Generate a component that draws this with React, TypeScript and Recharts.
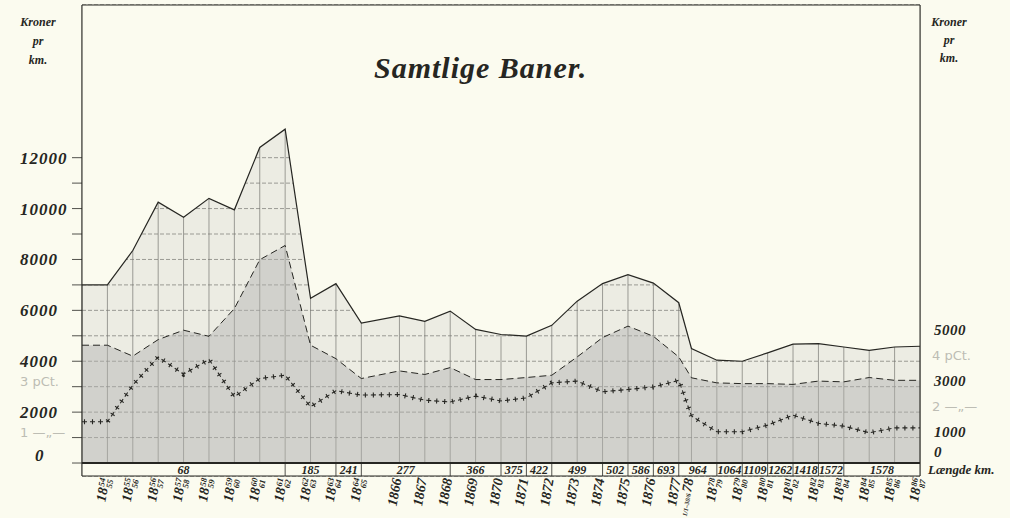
import {
  ComposedChart,
  Area,
  Line,
  XAxis,
  YAxis,
  CartesianGrid,
  ReferenceArea,
  ReferenceLine,
} from "recharts";

const BG = "#fbfbef";
const INK = "#262622";
const FADED = "#bdbdb4";
const SERIF = '"Liberation Serif", "DejaVu Serif", serif';
const SANS = '"DejaVu Sans", "Liberation Sans", sans-serif';

const Y_MIN = -510;
const Y_MAX = 18000;

// period end positions (years from start); 1865 half-year folded into 1866, half-year 1878
const periodPos = [
  0, 1, 2, 3, 4, 5, 6, 7, 8, 9, 10, 11, 12.5, 13.5, 14.5, 15.5, 16.5, 17.5,
  18.5, 19.5, 20.5, 21.5, 22.5, 23.5, 24, 25, 26, 27, 28, 29, 30, 31, 32, 33,
];
const periodLabels = [
  "", "18 54/55", "18 55/56", "18 56/57", "18 57/58", "18 58/59", "18 59/60",
  "18 60/61", "18 61/62", "18 62/63", "18 63/64", "18 64/65", "1866", "1867",
  "1868", "1869", "1870", "1871", "1872", "1873", "1874", "1875", "1876",
  "1877", "1/1–30/6 78", "18 78/79", "18 79/80", "18 80/81", "18 81/82",
  "18 82/83", "18 83/84", "18 84/85", "18 85/86", "18 86/87",
];

// Kroner pr km
const grossIncome = [
  7000, 7000, 8350, 10250, 9660, 10400, 9950, 12400, 13120, 6470, 7050, 5500,
  5780, 5570, 5970, 5250, 5050, 4990, 5410, 6360, 7050, 7400, 7070, 6300, 4500,
  4040, 4000, 4330, 4670, 4690, 4560, 4430, 4560, 4590,
];
const operatingCost = [
  4630, 4630, 4200, 4850, 5220, 4980, 6070, 7990, 8550, 4630, 4100, 3320, 3620,
  3480, 3750, 3280, 3280, 3360, 3450, 4170, 4930, 5380, 4980, 4170, 3350, 3150,
  3120, 3120, 3090, 3220, 3190, 3360, 3250, 3250,
];
// pCt.
const netReturnPct = [
  1.62, 1.62, 3.06, 4.17, 3.49, 4.07, 2.6, 3.32, 3.45, 2.21, 2.84, 2.67, 2.69,
  2.47, 2.4, 2.63, 2.44, 2.56, 3.15, 3.22, 2.8, 2.89, 2.99, 3.25, 1.85, 1.23,
  1.23, 1.49, 1.88, 1.56, 1.45, 1.19, 1.38, 1.38,
];

// Længde km.
const lineLengths = [
  68, 185, 241, 277, 366, 375, 422, 499, 502, 586, 693, 964, 1064, 1109, 1262,
  1418, 1572, 1578,
];
const lengthFrom = [
  0, 8, 10, 11, 14.5, 16.5, 17.5, 18.5, 20.5, 21.5, 22.5, 23.5, 25, 26, 27, 28,
  29, 30,
];
const lengthTo = [
  8, 10, 11, 14.5, 16.5, 17.5, 18.5, 20.5, 21.5, 22.5, 23.5, 25, 26, 27, 28, 29,
  30, 33,
];

const leftTicks = [
  0, 1000, 2000, 3000, 4000, 5000, 6000, 7000, 8000, 9000, 10000, 11000, 12000,
];
const leftTickText: Record<number, string> = {
  0: "0", 2000: "2000", 4000: "4000", 6000: "6000", 8000: "8000",
  10000: "10000", 12000: "12000",
};
const leftFadedText: Record<number, string> = { 1000: "1 —„—", 3000: "3 pCt." };
const rightTicks = [0, 1000, 2000, 3000, 4000, 5000];
const rightTickText: Record<number, string> = {
  0: "0", 1000: "1000", 3000: "3000", 5000: "5000",
};
const rightFadedText: Record<number, string> = { 2000: "2 —„—", 4000: "4 pCt." };

const rows = periodPos.map((t, i) => ({
  t,
  label: periodLabels[i],
  income: grossIncome[i],
  cost: operatingCost[i],
  pct: netReturnPct[i],
}));

const numStyle = {
  fontFamily: SERIF,
  fontStyle: "italic" as const,
  fontWeight: "bold" as const,
  fill: INK,
};

function LeftTick({ x, y, payload }: any) {
  const v = payload.value;
  const text = leftTickText[v];
  const faded = leftFadedText[v];
  return (
    <g>
      {text && (
        <text x={v === 0 ? x - 37 : x - 52} y={y} dy={v === 0 ? -2 : 6} fontSize={17} letterSpacing={1} {...numStyle}>
          {text}
        </text>
      )}
      {faded && (
        <text x={x - 52} y={y} dy={-1} fontSize={13} fontFamily={SANS} fill={FADED}>
          {faded}
        </text>
      )}
    </g>
  );
}

function RightTick({ x, y, payload }: any) {
  const v = payload.value;
  const text = rightTickText[v];
  const faded = rightFadedText[v];
  return (
    <g>
      {text && (
        <text x={x + 14} y={y} dy={v === 0 ? -6 : -1} fontSize={15} letterSpacing={0.5} {...numStyle}>
          {text}
        </text>
      )}
      {faded && (
        <text x={x + 12} y={y} dy={-1} fontSize={13} fontFamily={SANS} fill={FADED}>
          {faded}
        </text>
      )}
    </g>
  );
}

function PeriodTick({ x, y, payload }: any) {
  const i = periodPos.indexOf(payload.value);
  const label = i >= 0 ? periodLabels[i] : "";
  if (!label) return null;
  let content: any = label;
  if (label.startsWith("18 ")) {
    const [num, den] = label.slice(3).split("/");
    content = [
      <tspan key="a">18</tspan>,
      <tspan key="b" fontSize={8.5} dx={1} dy={-4}>{num}</tspan>,
      <tspan key="c" fontSize={8.5} dx={-9} dy={8}>{den}</tspan>,
    ];
  } else if (label.includes("–")) {
    const [head, tail] = label.split(" ");
    content = [
      <tspan key="a" fontSize={6.5}>{head}</tspan>,
      <tspan key="b" dx={1}>{tail}</tspan>,
    ];
  }
  return (
    <g transform={`translate(${x + 2},${y + 3}) rotate(-80)`}>
      <text textAnchor="end" fontSize={14} {...numStyle}>
        {content}
      </text>
    </g>
  );
}

const overlayText = {
  position: "absolute" as const,
  fontFamily: SERIF,
  fontStyle: "italic",
  fontWeight: "bold",
  color: INK,
  whiteSpace: "nowrap" as const,
};

export default function App() {
  return (
    <div
      style={{
        position: "absolute",
        left: 0,
        top: 0,
        width: 1010,
        height: 518,
        background: BG,
        overflow: "hidden",
      }}
    >
      <ComposedChart
        width={1010}
        height={518}
        data={rows}
        margin={{ top: 5, right: 0, bottom: 0, left: 0 }}
      >
        <CartesianGrid
          vertical={false}
          stroke="#3c3c38"
          strokeWidth={0.7}
          strokeDasharray="4 2"
        />
        <CartesianGrid horizontal={false} stroke="#3c3c38" strokeWidth={0.7} />
        <ReferenceArea
          x1={0}
          x2={33}
          y1={Y_MIN}
          y2={0}
          fill={BG}
          fillOpacity={1}
          stroke="none"
        />
        <Area
          type="linear"
          dataKey={(d: any) => [d.income, Y_MAX]}
          fill={BG}
          fillOpacity={1}
          stroke="none"
          dot={false}
          activeDot={false}
          isAnimationActive={false}
        />
        <Area
          type="linear"
          dataKey="income"
          fill="#d6d6cf"
          fillOpacity={0.38}
          stroke={INK}
          strokeWidth={1.2}
          dot={false}
          activeDot={false}
          isAnimationActive={false}
        />
        <Area
          yAxisId="right"
          type="linear"
          dataKey="cost"
          fill="#b2b2af"
          fillOpacity={0.45}
          stroke={INK}
          strokeWidth={1}
          strokeDasharray="7 4"
          dot={false}
          activeDot={false}
          isAnimationActive={false}
        />
        <Line
          yAxisId="pct"
          type="linear"
          dataKey="pct"
          stroke={INK}
          strokeWidth={1.1}
          strokeDasharray="5 3"
          dot={false}
          activeDot={false}
          isAnimationActive={false}
        />
        <Line
          yAxisId="pct"
          type="linear"
          dataKey="pct"
          stroke={INK}
          strokeWidth={5}
          strokeDasharray="1.1 6.9"
          strokeDashoffset={-1.95}
          dot={false}
          activeDot={false}
          isAnimationActive={false}
        />
        {lineLengths.map((len, i) => (
          <ReferenceArea
            key={"len" + i}
            x1={lengthFrom[i]}
            x2={lengthTo[i]}
            y1={Y_MIN}
            y2={0}
            fill="none"
            stroke="none"
            label={{
              value: String(len),
              position: "center",
              fontSize: 12,
              ...numStyle,
            }}
          />
        ))}
        {lengthFrom.slice(1).map((x) => (
          <ReferenceLine
            key={"sep" + x}
            segment={[
              { x, y: Y_MIN },
              { x, y: 0 },
            ]}
            stroke={INK}
            strokeWidth={0.8}
          />
        ))}
        <ReferenceLine y={0} stroke={INK} strokeWidth={2} />
        <ReferenceLine y={Y_MAX} stroke={INK} strokeWidth={1} />
        <XAxis
          dataKey="t"
          type="number"
          domain={[0, 33]}
          ticks={periodPos.slice(1)}
          interval={0}
          height={42}
          tickLine={false}
          tickSize={0}
          tickMargin={0}
          axisLine={{ stroke: INK }}
          tick={<PeriodTick />}
        />
        <YAxis
          type="number"
          domain={[Y_MIN, Y_MAX]}
          ticks={leftTicks}
          width={82}
          axisLine={{ stroke: INK }}
          tickLine={{ stroke: INK, strokeWidth: 0.8 }}
          tickSize={10}
          tickMargin={0}
          tick={<LeftTick />}
        />
        <YAxis
          yAxisId="right"
          orientation="right"
          type="number"
          domain={[Y_MIN, Y_MAX]}
          ticks={rightTicks}
          width={90}
          axisLine={{ stroke: INK }}
          tickLine={false}
          tickSize={0}
          tickMargin={0}
          tick={<RightTick />}
        />
        <YAxis
          yAxisId="pct"
          type="number"
          domain={[Y_MIN / 1000, Y_MAX / 1000]}
          hide
        />
      </ComposedChart>

      <div style={{ ...overlayText, left: 374, top: 51, fontSize: 30, letterSpacing: 1 }}>
        Samtlige Baner.
      </div>
      <div style={{ ...overlayText, left: 13, top: 13, width: 50, textAlign: "center", fontSize: 12, lineHeight: "19px" }}>
        Kroner<br />pr<br />km.
      </div>
      <div style={{ ...overlayText, left: 924, top: 13, width: 50, textAlign: "center", fontSize: 12, lineHeight: "18px" }}>
        Kroner<br />pr<br />km.
      </div>
      <div style={{ ...overlayText, left: 928, top: 463, fontSize: 13, lineHeight: "13px" }}>
        Længde km.
      </div>
    </div>
  );
}
